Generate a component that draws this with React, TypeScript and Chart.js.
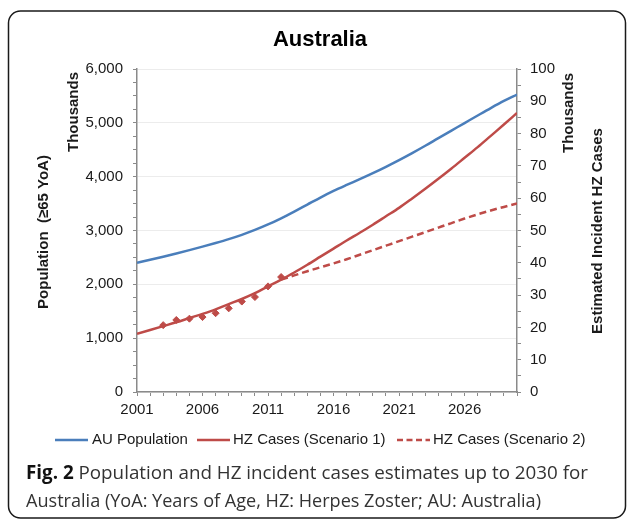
import React, { useEffect, useRef } from 'react';
import { Chart, registerables } from 'chart.js';

Chart.register(...registerables);

const years = [2001, 2002, 2003, 2004, 2005, 2006, 2007, 2008, 2009, 2010, 2011, 2012, 2013, 2014, 2015, 2016, 2017, 2018, 2019, 2020, 2021, 2022, 2023, 2024, 2025, 2026, 2027, 2028, 2029, 2030];
const auPopulation = [2400, 2455, 2513, 2573, 2635, 2700, 2768, 2840, 2920, 3010, 3112, 3227, 3352, 3482, 3612, 3734, 3846, 3954, 4066, 4184, 4308, 4438, 4574, 4716, 4856, 4996, 5136, 5274, 5406, 5526];
const hzScenario1 = [18.0, 19.2, 20.4, 21.6, 22.9, 24.2, 25.6, 27.2, 28.8, 30.6, 32.7, 34.8, 37.0, 39.4, 41.9, 44.4, 46.9, 49.3, 51.8, 54.4, 57.0, 59.9, 62.9, 66.0, 69.2, 72.5, 75.8, 79.3, 82.8, 86.4];
const scenario2Years = [2012, 2013, 2014, 2015, 2016, 2017, 2018, 2019, 2020, 2021, 2022, 2023, 2024, 2025, 2026, 2027, 2028, 2029, 2030];
const hzScenario2 = [34.8, 36.1, 37.4, 38.6, 39.8, 41.1, 42.5, 43.9, 45.3, 46.7, 48.1, 49.5, 50.9, 52.3, 53.7, 55.0, 56.2, 57.3, 58.4];
const observedYears = [2003, 2004, 2005, 2006, 2007, 2008, 2009, 2010, 2011, 2012];
const observedCases = [20.7, 22.3, 22.7, 23.2, 24.4, 25.9, 28.0, 29.4, 32.7, 35.6];
const xTickLabels = ['2001', '2006', '2011', '2016', '2021', '2026'];

const chartTitle = 'Australia';
const leftAxisTitle = 'Population  (\u226565 YoA)';
const rightAxisTitle = 'Estimated Incident HZ Cases';
const unitLabel = 'Thousands';
const legendLabels = ['AU Population', 'HZ Cases (Scenario 1)', 'HZ Cases (Scenario 2)'];
const captionBold = 'Fig. 2';
const captionLine1 = ' Population and HZ incident cases estimates up to 2030 for';
const captionLine2 = 'Australia (YoA: Years of Age, HZ: Herpes Zoster; AU: Australia)';

const BLUE = '#4a7ebb';
const RED = '#be4b48';
const FONT = "'Liberation Sans', Arial, Helvetica, sans-serif";
const CAPFONT = "'Open Sans', 'Noto Sans', sans-serif";
const TXT = '#1a1a1a';
const AXIS = '#8a8a8a';

const decorPlugin = {
  id: 'decor',
  beforeDraw(chart: any) {
    const ctx = chart.ctx;
    ctx.save();
    ctx.fillStyle = '#ffffff';
    ctx.fillRect(0, 0, chart.width, chart.height);
    ctx.restore();
  },
  afterDraw(chart: any) {
    const ctx = chart.ctx;
    ctx.save();
    // frame
    ctx.strokeStyle = '#1a1a1a';
    ctx.lineWidth = 1.5;
    ctx.beginPath();
    (ctx as any).roundRect(8.5, 11, 617, 507, 12);
    ctx.stroke();

    // title
    ctx.fillStyle = '#000';
    ctx.font = `bold 22px ${FONT}`;
    ctx.textAlign = 'center';
    ctx.textBaseline = 'middle';
    ctx.fillText(chartTitle, 320, 40);

    const vText = (t: string, x: number, y: number) => {
      ctx.save();
      ctx.translate(x, y);
      ctx.rotate(-Math.PI / 2);
      ctx.textAlign = 'center';
      ctx.textBaseline = 'middle';
      ctx.fillText(t, 0, 0);
      ctx.restore();
    };
    ctx.fillStyle = TXT;
    ctx.font = `bold 15px ${FONT}`;
    vText(unitLabel, 74, 112);
    vText(leftAxisTitle, 44, 232);
    vText(unitLabel, 569, 113);
    vText(rightAxisTitle, 598, 231);

    // legend
    const ly = 440;
    const items = [
      { x0: 55, x1: 88, tx: 92, color: BLUE, dash: [] as number[] },
      { x0: 197, x1: 230, tx: 233, color: RED, dash: [] as number[] },
      { x0: 397, x1: 430, tx: 433, color: RED, dash: [6, 3.5] },
    ];
    items.forEach((it, i) => {
      ctx.save();
      ctx.strokeStyle = it.color;
      ctx.lineWidth = 2.5;
      ctx.setLineDash(it.dash);
      ctx.beginPath();
      ctx.moveTo(it.x0, ly);
      ctx.lineTo(it.x1, ly);
      ctx.stroke();
      ctx.restore();
      ctx.fillStyle = TXT;
      ctx.font = `15px ${FONT}`;
      ctx.textAlign = 'left';
      ctx.textBaseline = 'middle';
      ctx.fillText(legendLabels[i], it.tx, ly);
    });

    // caption
    const drawFit = (parts: { t: string; bold: boolean; color: string }[], x: number, base: number, target: number) => {
      let total = 0;
      const widths = parts.map((p) => {
        ctx.font = `${p.bold ? 'bold ' : ''}19px ${CAPFONT}`;
        const w = ctx.measureText(p.t).width;
        total += w;
        return w;
      });
      const s = target / total;
      ctx.save();
      ctx.translate(x, base);
      ctx.scale(s, 1);
      let cx = 0;
      parts.forEach((p, i) => {
        ctx.font = `${p.bold ? 'bold ' : ''}19px ${CAPFONT}`;
        ctx.fillStyle = p.color;
        ctx.textAlign = 'left';
        ctx.textBaseline = 'alphabetic';
        ctx.fillText(p.t, cx, 0);
        cx += widths[i];
      });
      ctx.restore();
    };
    drawFit([{ t: captionBold, bold: true, color: '#111' }, { t: captionLine1, bold: false, color: '#333' }], 26, 479, 562);
    drawFit([{ t: captionLine2, bold: false, color: '#333' }], 26, 507, 515);
    ctx.restore();
  },
};

export default function App() {
  const ref = useRef<HTMLCanvasElement | null>(null);
  useEffect(() => {
    if (!ref.current) return;
    const tickFont = { family: FONT, size: 15 };
    const chart = new Chart(ref.current, {
      type: 'line',
      data: {
        datasets: [
          {
            label: legendLabels[0],
            data: years.map((y, i) => ({ x: y, y: auPopulation[i] })),
            borderColor: BLUE,
            borderWidth: 2.5,
            pointRadius: 0,
            cubicInterpolationMode: 'monotone',
            yAxisID: 'yL',
          },
          {
            label: legendLabels[1],
            data: years.map((y, i) => ({ x: y, y: hzScenario1[i] })),
            borderColor: RED,
            borderWidth: 2.5,
            pointRadius: 0,
            cubicInterpolationMode: 'monotone',
            yAxisID: 'yR',
          },
          {
            label: legendLabels[2],
            data: scenario2Years.map((y, i) => ({ x: y, y: hzScenario2[i] })),
            borderColor: RED,
            borderWidth: 2.5,
            borderDash: [7, 4],
            pointRadius: 0,
            cubicInterpolationMode: 'monotone',
            yAxisID: 'yR',
          },
          {
            label: 'Observed',
            data: observedYears.map((y, i) => ({ x: y, y: observedCases[i] })),
            showLine: false,
            pointStyle: 'rectRot',
            pointRadius: 3.5,
            pointBackgroundColor: RED,
            pointBorderColor: RED,
            pointBorderWidth: 1,
            yAxisID: 'yR',
          },
        ],
      },
      options: {
        animation: false,
        responsive: false,
        devicePixelRatio: 1,
        layout: { padding: { top: 69, bottom: 97, left: 0, right: 0 } },
        plugins: { legend: { display: false }, title: { display: false }, tooltip: { enabled: false } },
        scales: {
          x: {
            type: 'linear',
            position: 'bottom',
            min: 2001,
            max: 2030,
            afterFit: (s: any) => { s.height = 30; },
            ticks: {
              stepSize: 1,
              autoSkip: false,
              maxRotation: 0,
              padding: 5,
              color: TXT,
              font: tickFont,
              callback: (v: any) => (xTickLabels.includes(String(v)) ? String(v) : ''),
            },
            grid: { drawOnChartArea: false, tickLength: 4, tickColor: AXIS, tickWidth: 1 },
            border: { display: true, color: AXIS, width: 1.5 },
          },
          yL: {
            type: 'linear',
            position: 'left',
            min: 0,
            max: 6000,
            afterFit: (s: any) => { s.width = 137; },
            ticks: {
              stepSize: 250,
              autoSkip: false,
              padding: 10,
              color: TXT,
              font: tickFont,
              callback: (v: any) => (v % 1000 === 0 ? Number(v).toLocaleString('en-US') : ''),
            },
            grid: {
              drawOnChartArea: true,
              color: (c: any) => (c.tick && c.tick.value % 1000 === 0 ? '#ececec' : 'rgba(0,0,0,0)'),
              lineWidth: 1,
              tickLength: 4,
              tickColor: AXIS,
              tickWidth: 1,
            },
            border: { display: true, color: AXIS, width: 1.5 },
          },
          yR: {
            type: 'linear',
            position: 'right',
            min: 0,
            max: 100,
            afterFit: (s: any) => { s.width = 112; },
            ticks: {
              stepSize: 5,
              autoSkip: false,
              padding: 9,
              color: TXT,
              font: tickFont,
              callback: (v: any) => (v % 10 === 0 ? String(v) : ''),
            },
            grid: { drawOnChartArea: false, tickLength: 4, tickColor: AXIS, tickWidth: 1 },
            border: { display: true, color: AXIS, width: 1.5 },
          },
        },
      },
      plugins: [decorPlugin],
    } as any);
    return () => chart.destroy();
  }, []);
  return (
    <div style={{ position: 'fixed', left: 0, top: 0, width: 629, height: 519, background: '#fff' }}>
      <canvas ref={ref} width={629} height={519} style={{ display: 'block', width: 629, height: 519 }} />
    </div>
  );
}
